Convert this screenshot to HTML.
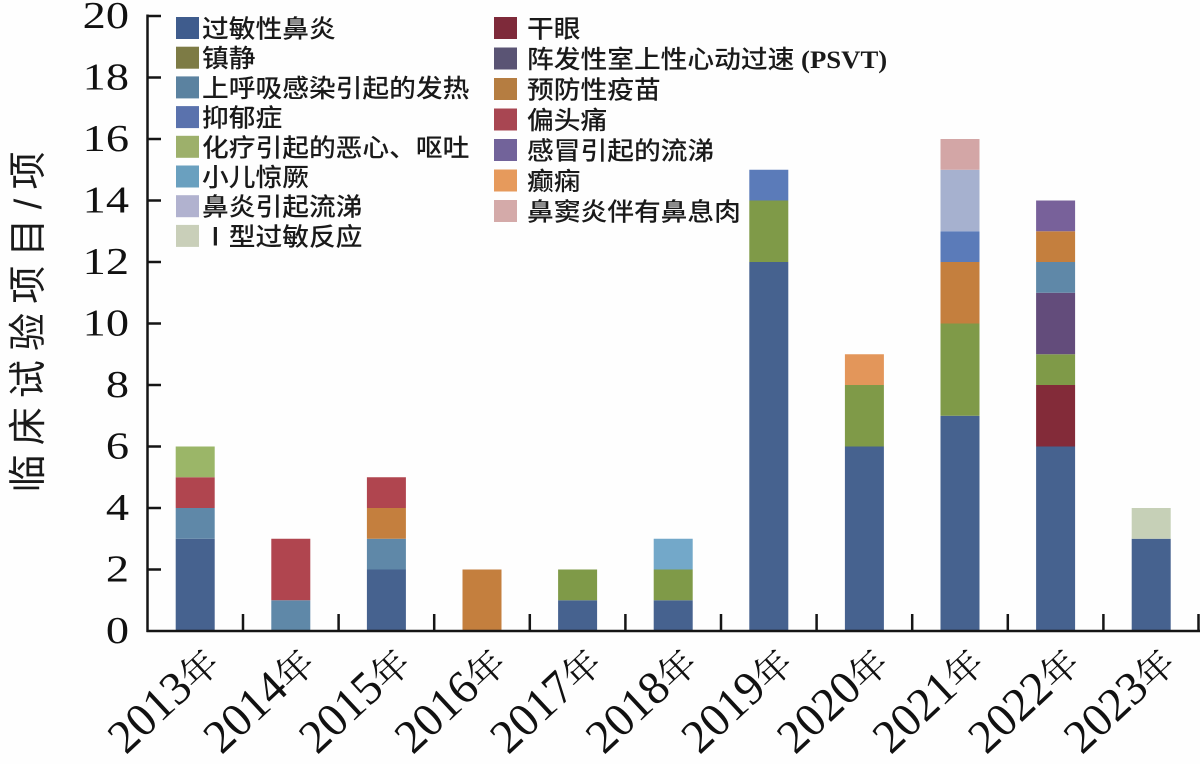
<!DOCTYPE html>
<html>
<head>
<meta charset="utf-8">
<style>
  html, body { margin:0; padding:0; background:#fefefe; }
  body { width:1200px; height:764px; overflow:hidden; }
  svg { display:block; }
  .tick { font-family:"Liberation Serif","Noto Serif CJK SC",serif; font-size:38px; fill:#111; }
  .leg { font-family:"Liberation Sans","Noto Sans CJK SC",sans-serif; font-size:25px; fill:#1a1a1a; font-weight:500; }
  .xl { font-family:"Liberation Serif",serif; font-size:47px; fill:#111; }
  .xn { font-family:"Liberation Serif","Noto Serif CJK SC",serif; font-size:37px; fill:#111; }
</style>
</head>
<body>
<svg width="1200" height="764" viewBox="0 0 1200 764" xmlns="http://www.w3.org/2000/svg">
  <rect x="0" y="0" width="1200" height="764" fill="#fefefe"/>

  <!-- Bars -->
  <!-- 2013 -->
  <rect x="175.7" y="538.75" width="39" height="92.25" fill="#46628f"/>
  <rect x="175.7" y="508" width="39" height="30.75" fill="#5f88a8"/>
  <rect x="175.7" y="477.25" width="39" height="30.75" fill="#b0454f"/>
  <rect x="175.7" y="446.5" width="39" height="30.75" fill="#9bb668"/>
  <!-- 2014 -->
  <rect x="271.3" y="600.25" width="39" height="30.75" fill="#5f88a8"/>
  <rect x="271.3" y="538.75" width="39" height="61.5" fill="#b0454f"/>
  <!-- 2015 -->
  <rect x="366.9" y="569.5" width="39" height="61.5" fill="#46628f"/>
  <rect x="366.9" y="538.75" width="39" height="30.75" fill="#5f88a8"/>
  <rect x="366.9" y="508" width="39" height="30.75" fill="#c47f3e"/>
  <rect x="366.9" y="477.25" width="39" height="30.75" fill="#b0454f"/>
  <!-- 2016 -->
  <rect x="462.5" y="569.5" width="39" height="61.5" fill="#c47f3e"/>
  <!-- 2017 -->
  <rect x="558.1" y="600.25" width="39" height="30.75" fill="#46628f"/>
  <rect x="558.1" y="569.5" width="39" height="30.75" fill="#7f9a48"/>
  <!-- 2018 -->
  <rect x="653.7" y="600.25" width="39" height="30.75" fill="#46628f"/>
  <rect x="653.7" y="569.5" width="39" height="30.75" fill="#7f9a48"/>
  <rect x="653.7" y="538.75" width="39" height="30.75" fill="#73a8c9"/>
  <!-- 2019 -->
  <rect x="749.3" y="262" width="39" height="369" fill="#46628f"/>
  <rect x="749.3" y="200.5" width="39" height="61.5" fill="#7f9a48"/>
  <rect x="749.3" y="169.75" width="39" height="30.75" fill="#5b7bb9"/>
  <!-- 2020 -->
  <rect x="844.9" y="446.5" width="39" height="184.5" fill="#46628f"/>
  <rect x="844.9" y="385" width="39" height="61.5" fill="#7f9a48"/>
  <rect x="844.9" y="354.25" width="39" height="30.75" fill="#e3965a"/>
  <!-- 2021 -->
  <rect x="940.5" y="415.75" width="39" height="215.25" fill="#46628f"/>
  <rect x="940.5" y="323.5" width="39" height="92.25" fill="#7f9a48"/>
  <rect x="940.5" y="262" width="39" height="61.5" fill="#c47f3e"/>
  <rect x="940.5" y="231.25" width="39" height="30.75" fill="#5b7bb9"/>
  <rect x="940.5" y="169.75" width="39" height="61.5" fill="#a6b1cf"/>
  <rect x="940.5" y="139" width="39" height="30.75" fill="#d3a6a6"/>
  <!-- 2022 -->
  <rect x="1036.1" y="446.5" width="39" height="184.5" fill="#46628f"/>
  <rect x="1036.1" y="385" width="39" height="61.5" fill="#832b39"/>
  <rect x="1036.1" y="354.25" width="39" height="30.75" fill="#7f9a48"/>
  <rect x="1036.1" y="292.75" width="39" height="61.5" fill="#634c7b"/>
  <rect x="1036.1" y="262" width="39" height="30.75" fill="#5f88a8"/>
  <rect x="1036.1" y="231.25" width="39" height="30.75" fill="#c47f3e"/>
  <rect x="1036.1" y="200.5" width="39" height="30.75" fill="#78619a"/>
  <!-- 2023 -->
  <rect x="1131.7" y="538.75" width="39" height="92.25" fill="#46628f"/>
  <rect x="1131.7" y="508" width="39" height="30.75" fill="#c6d0b7"/>

  <!-- Axes -->
  <g stroke="#151515" stroke-width="2.5" fill="none">
    <line x1="147.5" y1="14.5" x2="147.5" y2="632"/>
    <line x1="146.5" y1="631" x2="1200" y2="631"/>
    <!-- y ticks -->
    <line x1="147" y1="16" x2="161" y2="16"/>
    <line x1="147" y1="77.5" x2="161" y2="77.5"/>
    <line x1="147" y1="139" x2="161" y2="139"/>
    <line x1="147" y1="200.5" x2="161" y2="200.5"/>
    <line x1="147" y1="262" x2="161" y2="262"/>
    <line x1="147" y1="323.5" x2="161" y2="323.5"/>
    <line x1="147" y1="385" x2="161" y2="385"/>
    <line x1="147" y1="446.5" x2="161" y2="446.5"/>
    <line x1="147" y1="508" x2="161" y2="508"/>
    <line x1="147" y1="569.5" x2="161" y2="569.5"/>
    <!-- x ticks -->
    <line x1="243" y1="631" x2="243" y2="614"/>
    <line x1="338.6" y1="631" x2="338.6" y2="614"/>
    <line x1="434.2" y1="631" x2="434.2" y2="614"/>
    <line x1="529.8" y1="631" x2="529.8" y2="614"/>
    <line x1="625.4" y1="631" x2="625.4" y2="614"/>
    <line x1="721" y1="631" x2="721" y2="614"/>
    <line x1="816.6" y1="631" x2="816.6" y2="614"/>
    <line x1="912.2" y1="631" x2="912.2" y2="614"/>
    <line x1="1007.8" y1="631" x2="1007.8" y2="614"/>
    <line x1="1103.4" y1="631" x2="1103.4" y2="614"/>
    <line x1="1198.5" y1="631" x2="1198.5" y2="614"/>
  </g>

  <!-- Y tick labels -->
  <g class="tick" text-anchor="end">
    <text transform="translate(129,28) scale(1.22,1)">20</text>
    <text transform="translate(129,89.5) scale(1.22,1)">18</text>
    <text transform="translate(129,151) scale(1.22,1)">16</text>
    <text transform="translate(129,212.5) scale(1.22,1)">14</text>
    <text transform="translate(129,274) scale(1.22,1)">12</text>
    <text transform="translate(129,335.5) scale(1.22,1)">10</text>
    <text transform="translate(129,397) scale(1.22,1)">8</text>
    <text transform="translate(129,458.5) scale(1.22,1)">6</text>
    <text transform="translate(129,520) scale(1.22,1)">4</text>
    <text transform="translate(129,581.5) scale(1.22,1)">2</text>
    <text transform="translate(129,643) scale(1.22,1)">0</text>
  </g>

  <!-- Y axis title -->
  <text transform="translate(41,322) rotate(-90)" text-anchor="middle" textLength="341" lengthAdjust="spacing"
        style="font-family:'Liberation Sans','Noto Sans CJK SC',sans-serif;font-size:38px;fill:#1a1a1a;">临床试验项目/项</text>

  <!-- X labels -->
  <g text-anchor="end">
    <text transform="translate(221.7,666) rotate(-43)"><tspan class="xl">2013</tspan><tspan class="xn">年</tspan></text>
    <text transform="translate(317.3,666) rotate(-43)"><tspan class="xl">2014</tspan><tspan class="xn">年</tspan></text>
    <text transform="translate(412.9,666) rotate(-43)"><tspan class="xl">2015</tspan><tspan class="xn">年</tspan></text>
    <text transform="translate(508.5,666) rotate(-43)"><tspan class="xl">2016</tspan><tspan class="xn">年</tspan></text>
    <text transform="translate(604.1,666) rotate(-43)"><tspan class="xl">2017</tspan><tspan class="xn">年</tspan></text>
    <text transform="translate(699.7,666) rotate(-43)"><tspan class="xl">2018</tspan><tspan class="xn">年</tspan></text>
    <text transform="translate(795.3,666) rotate(-43)"><tspan class="xl">2019</tspan><tspan class="xn">年</tspan></text>
    <text transform="translate(890.9,666) rotate(-43)"><tspan class="xl">2020</tspan><tspan class="xn">年</tspan></text>
    <text transform="translate(986.5,666) rotate(-43)"><tspan class="xl">2021</tspan><tspan class="xn">年</tspan></text>
    <text transform="translate(1082.1,666) rotate(-43)"><tspan class="xl">2022</tspan><tspan class="xn">年</tspan></text>
    <text transform="translate(1177.7,666) rotate(-43)"><tspan class="xl">2023</tspan><tspan class="xn">年</tspan></text>
  </g>

  <!-- Legend left column -->
  <g>
    <rect x="176" y="17" width="23" height="22" fill="#3f5c8d"/>
    <rect x="176" y="46.7" width="23" height="22" fill="#7d7b45"/>
    <rect x="176" y="76.4" width="23" height="22" fill="#5b82a0"/>
    <rect x="176" y="106.1" width="23" height="22" fill="#5a72ad"/>
    <rect x="176" y="135.8" width="23" height="22" fill="#9db06b"/>
    <rect x="176" y="165.5" width="23" height="22" fill="#6aa0bf"/>
    <rect x="176" y="195.2" width="23" height="22" fill="#b1b2cf"/>
    <rect x="176" y="224.9" width="23" height="22" fill="#c9cfb9"/>
  </g>
  <g class="leg">
    <text transform="translate(202,37.5) scale(1.07,1)">过敏性鼻炎</text>
    <text transform="translate(202,67.2) scale(1.07,1)">镇静</text>
    <text transform="translate(202,96.9) scale(1.07,1)">上呼吸感染引起的发热</text>
    <text transform="translate(202,126.6) scale(1.07,1)">抑郁症</text>
    <text transform="translate(202,156.3) scale(1.07,1)">化疗引起的恶心、呕吐</text>
    <text transform="translate(202,186) scale(1.07,1)">小儿惊厥</text>
    <text transform="translate(202,215.7) scale(1.07,1)">鼻炎引起流涕</text>
    <text transform="translate(202,245.4) scale(1.07,1)">Ⅰ型过敏反应</text>
  </g>

  <!-- Legend right column -->
  <g>
    <rect x="494" y="17" width="23" height="22" fill="#7e2a3a"/>
    <rect x="494" y="47.5" width="23" height="22" fill="#5a5474"/>
    <rect x="494" y="78" width="23" height="22" fill="#b57d41"/>
    <rect x="494" y="108.5" width="23" height="22" fill="#a84652"/>
    <rect x="494" y="139" width="23" height="22" fill="#72639a"/>
    <rect x="494" y="169.5" width="23" height="22" fill="#e69a5c"/>
    <rect x="494" y="200" width="23" height="22" fill="#d4aaa9"/>
  </g>
  <g class="leg">
    <text transform="translate(527,37.5) scale(1.07,1)">干眼</text>
    <text transform="translate(527,68) scale(1.07,1)">阵发性室上性心动过速<tspan style="font-family:'Liberation Serif',serif;font-weight:bold;"> (PSVT)</tspan></text>
    <text transform="translate(527,98.5) scale(1.07,1)">预防性疫苗</text>
    <text transform="translate(527,129) scale(1.07,1)">偏头痛</text>
    <text transform="translate(527,159.5) scale(1.07,1)">感冒引起的流涕</text>
    <text transform="translate(527,190) scale(1.07,1)">癫痫</text>
    <text transform="translate(527,220.5) scale(1.07,1)">鼻窦炎伴有鼻息肉</text>
  </g>
</svg>
</body>
</html>
